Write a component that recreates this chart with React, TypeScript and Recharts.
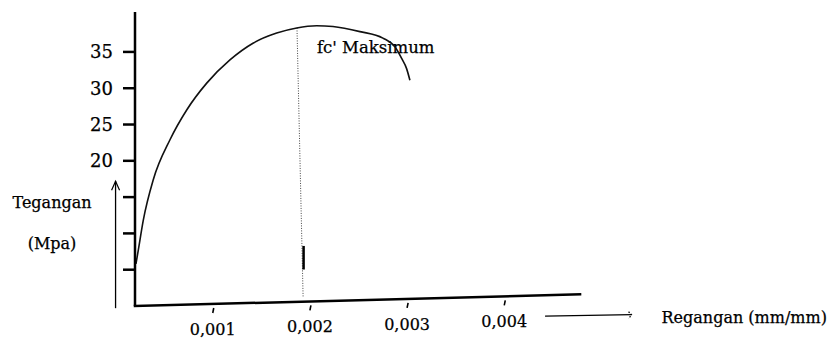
import React from 'react';
import { LineChart, Line, XAxis, YAxis, ReferenceLine } from 'recharts';

// stress–strain curve (strain in mm/mm, stress in MPa)
const strainValues = [0.00021, 0.000234, 0.000285, 0.000388, 0.00056, 0.000732, 0.000938, 0.001177, 0.001414, 0.001658, 0.001864, 0.002069, 0.002237, 0.002515, 0.002751, 0.002875, 0.002944, 0.002995, 0.003029];
const stressValues = [5.8, 7.7, 11.8, 17.4, 22.9, 27.0, 30.7, 33.9, 36.2, 37.6, 38.3, 38.6, 38.5, 37.8, 36.9, 35.7, 34.1, 32.7, 31.1];

const xTicks = [0.001, 0.002, 0.003, 0.004];
const xTickLabels = ['0,001', '0,002', '0,003', '0,004'];
const yTicks = [5, 10, 15, 20, 25, 30, 35];
const yLabelledTicks = [20, 25, 30, 35];

const xDomain = [0.0002, 0.0048];
const yDomain = [0, 40.5];

// dotted line at fc' maksimum (top point, bottom point)
const peakLineStrain = [0.001867, 0.00193];
const peakLineStress = [38.3, 1.2];
// short solid mark on the dotted line
const markStrain = [0.001935, 0.001935];
const markStress = [8.1, 5.2];
// slanted x axis line
const xAxisStrain = [0.0002, 0.00478];
const xAxisStress = [0, 1.6];
// axis arrows
const upArrowStrain = [0, 0];
const upArrowStress = [-0.3, 17.2];
const rightArrowStrain = [0.00442, 0.00531];
const rightArrowStress = [-1.4, -1.2];

const data = strainValues.map((s, i) => ({ strain: s, stress: stressValues[i] }));

const FONT = 'DejaVu Serif';
const SLOPE = 11.6 / 447;
const TXT = { fontFamily: FONT, fill: '#000', stroke: '#000', strokeWidth: 0.25 };

const renderXTick = (props: any) => {
  const { x, y, payload } = props;
  const idx = xTicks.indexOf(payload.value);
  const label = idx >= 0 ? xTickLabels[idx] : '';
  const shift = (x - 135) * SLOPE;
  return (
    <g transform={`translate(${x},${y - shift})`}>
      <path d="M1,4 L0,9" stroke="#000" strokeWidth={1.6} fill="none" />
      <text x={0} y={31} textAnchor="middle" fontSize={16} {...TXT}>
        {label}
      </text>
    </g>
  );
};

const renderYTick = (props: any) => {
  const { x, y, payload } = props;
  if (!yLabelledTicks.includes(payload.value)) return <g />;
  return (
    <text x={x} y={y} dy="0.355em" textAnchor="end" fontSize={18} {...TXT}>
      {payload.value}
    </text>
  );
};

const renderYLabel = () => (
  <g>
    <text x={52} y={208} textAnchor="middle" fontSize={16} {...TXT}>Tegangan</text>
    <text x={52} y={249} textAnchor="middle" fontSize={16} {...TXT}>(Mpa)</text>
  </g>
);

const upArrowShape = (p: any) => (
  <g>
    <line x1={p.x1} y1={p.y1} x2={p.x2} y2={p.y2} stroke="#000" strokeWidth={1.3} />
    <path d={`M${p.x2 - 4},${p.y2 + 9} L${p.x2},${p.y2} L${p.x2 + 4},${p.y2 + 9}`} stroke="#000" strokeWidth={1.2} fill="none" />
  </g>
);

const rightArrowShape = (p: any) => (
  <g>
    <line x1={p.x1} y1={p.y1} x2={p.x2} y2={p.y2} stroke="#000" strokeWidth={1.3} />
    <path d={`M${p.x2 - 3},${p.y2 - 3} L${p.x2},${p.y2} L${p.x2 - 3},${p.y2 + 4}`} stroke="#000" strokeWidth={1.2} fill="none" strokeDasharray="1.5 1.5" />
    <text x={p.x2 + 30} y={p.y2 + 8} fontSize={16} {...TXT}>Regangan (mm/mm)</text>
  </g>
);

const peakShape = (p: any) => (
  <g>
    <line x1={p.x1} y1={p.y1} x2={p.x2} y2={p.y2} stroke="#444" strokeWidth={1} strokeDasharray="1 1.5" />
    <text x={p.x1 + 20} y={p.y1 + 25} fontSize={16.5} {...TXT}>fc' Maksimum</text>
  </g>
);

const plainShape = (p: any) => (
  <line x1={p.x1} y1={p.y1} x2={p.x2} y2={p.y2} stroke="#000" strokeWidth={p.strokeWidth} strokeLinecap="square" />
);

export default function App() {
  return (
    <div style={{ position: 'absolute', left: 0, top: 0, background: '#fff' }}>
      <LineChart
        width={830}
        height={343}
        data={data}
        margin={{ top: 12, right: 248, bottom: 0, left: 0 }}
      >
        <XAxis
          type="number"
          dataKey="strain"
          domain={xDomain}
          ticks={xTicks}
          height={37}
          axisLine={false}
          tickLine={false}
          tickSize={0}
          tickMargin={0}
          tick={renderXTick}
          allowDataOverflow
        />
        <YAxis
          type="number"
          dataKey="stress"
          domain={yDomain}
          ticks={yTicks}
          width={135}
          axisLine={{ stroke: '#000', strokeWidth: 2.5 }}
          tickLine={{ stroke: '#000', strokeWidth: 2.5 }}
          tickSize={12}
          tickMargin={10}
          tick={renderYTick}
          label={renderYLabel}
          allowDataOverflow
        />
        <ReferenceLine
          segment={[{ x: xAxisStrain[0], y: xAxisStress[0] }, { x: xAxisStrain[1], y: xAxisStress[1] }]}
          ifOverflow="visible"
          strokeWidth={2.5}
          shape={plainShape}
        />
        <ReferenceLine
          segment={[{ x: peakLineStrain[0], y: peakLineStress[0] }, { x: peakLineStrain[1], y: peakLineStress[1] }]}
          ifOverflow="visible"
          shape={peakShape}
        />
        <ReferenceLine
          segment={[{ x: markStrain[0], y: markStress[0] }, { x: markStrain[1], y: markStress[1] }]}
          ifOverflow="visible"
          strokeWidth={2.5}
          shape={plainShape}
        />
        <ReferenceLine
          segment={[{ x: upArrowStrain[0], y: upArrowStress[0] }, { x: upArrowStrain[1], y: upArrowStress[1] }]}
          ifOverflow="visible"
          shape={upArrowShape}
        />
        <ReferenceLine
          segment={[{ x: rightArrowStrain[0], y: rightArrowStress[0] }, { x: rightArrowStrain[1], y: rightArrowStress[1] }]}
          ifOverflow="visible"
          shape={rightArrowShape}
        />
        <Line
          type="monotone"
          dataKey="stress"
          stroke="#111"
          strokeWidth={1.6}
          dot={false}
          isAnimationActive={false}
        />
      </LineChart>
    </div>
  );
}
